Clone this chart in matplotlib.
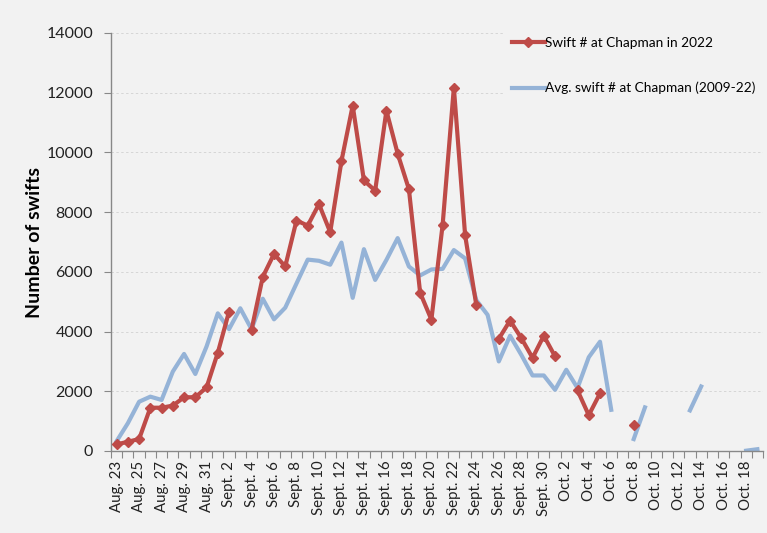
import numpy as np
import matplotlib
matplotlib.use("Agg")
import matplotlib.pyplot as plt
from matplotlib.ticker import FixedLocator, NullFormatter

nan = np.nan

# 58 daily categories, Aug 23 .. Oct 19
tick_labels = ["Aug. 23", "Aug. 25", "Aug. 27", "Aug. 29", "Aug. 31",
               "Sept. 2", "Sept. 4", "Sept. 6", "Sept. 8", "Sept. 10",
               "Sept. 12", "Sept. 14", "Sept. 16", "Sept. 18", "Sept. 20",
               "Sept. 22", "Sept. 24", "Sept. 26", "Sept. 28", "Sept. 30",
               "Oct. 2", "Oct. 4", "Oct. 6", "Oct. 8", "Oct. 10",
               "Oct. 12", "Oct. 14", "Oct. 16", "Oct. 18"]

swifts_2022 = [220, 310, 400, 1450, 1450, 1520, 1800, 1800, 2130, 3290,
               4670, nan, 4060, 5830, 6600, 6180, 7720, 7550, 8270, 7330,
               9710, 11570, 9060, 8720, 11400, 9960, 8770, 5300, 4400, 7570,
               12170, 7230, 4880, nan, 3760, 4370, 3780, 3120, 3860, 3170,
               nan, 2030, 1200, 1930, nan, nan, 870, nan, nan, nan,
               nan, nan, nan, nan, nan, nan, nan, nan]

swifts_avg = [330, 930, 1650, 1820, 1710, 2660, 3250, 2580, 3500, 4610,
              4080, 4780, 4080, 5100, 4410, 4800, 5610, 6410, 6370, 6240,
              6980, 5130, 6760, 5730, 6400, 7130, 6180, 5880, 6080, 6100,
              6730, 6450, 5050, 4560, 3000, 3860, 3220, 2530, 2530, 2050,
              2720, 2110, 3140, 3660, 1380, nan, 400, 1460, nan, nan,
              nan, 1360, 2160, nan, nan, nan, 10, 60]

series_labels = ["Swift # at Chapman in 2022", "Avg. swift # at Chapman (2009-22)"]

BG = "#f2f2f2"
RED = "#be4b48"
BLUE = "#95b3d7"
FONT = ["Lato", "DejaVu Sans"]
plt.rcParams["font.family"] = FONT

fig = plt.figure(figsize=(7.67, 5.33), dpi=100, facecolor=BG)
ax = fig.add_axes([111/767, 1-451/533, (763-111)/767, (451-33)/533], facecolor=BG)

n = len(swifts_2022)
x = np.arange(n)
ax.plot(x, swifts_2022, color=RED, lw=3, marker="D", ms=5.5, mec=RED, mfc=RED,
        label=series_labels[0], zorder=3)
ax.plot(x, swifts_avg, color=BLUE, lw=3, label=series_labels[1], zorder=2)

ax.set_xlim(-0.5, n - 0.5)
ax.set_ylim(0, 14000)
ax.set_yticks(np.arange(0, 14001, 2000))
ax.yaxis.grid(True, color="#d6d6d6", ls=(0, (2.5, 2.5)), lw=0.7)
ax.set_axisbelow(True)

# tick marks at category boundaries, labels every other category
ax.xaxis.set_major_locator(FixedLocator(np.arange(-0.5, n, 1.0)))
ax.xaxis.set_major_formatter(NullFormatter())
ax.set_xticks(np.arange(0, n - 1, 2), minor=True)
ax.set_xticklabels(tick_labels, minor=True, rotation=90, fontsize=10.8, color="#222222")
ax.tick_params(axis="x", which="major", length=5, color="#888888", direction="out")
ax.tick_params(axis="x", which="minor", length=0, pad=7)
ax.tick_params(axis="y", length=5, color="#888888", labelsize=11.5, labelcolor="#222222", pad=8)

for s in ["top", "right"]:
    ax.spines[s].set_visible(False)
for s in ["left", "bottom"]:
    ax.spines[s].set_color("#888888")
    ax.spines[s].set_linewidth(1)

ax.set_ylabel("Number of swifts", fontsize=14, fontweight="bold", labelpad=2)

leg = ax.legend(loc="upper right", bbox_to_anchor=(1.012, 1.026), frameon=True,
                facecolor=BG, edgecolor=BG, framealpha=1, fontsize=9.8,
                labelspacing=2.4, handlelength=2.4, handletextpad=0.05,
                borderpad=0.6)
leg.get_frame().set_linewidth(0)

fig.savefig("out.png", dpi=100, facecolor=BG)
